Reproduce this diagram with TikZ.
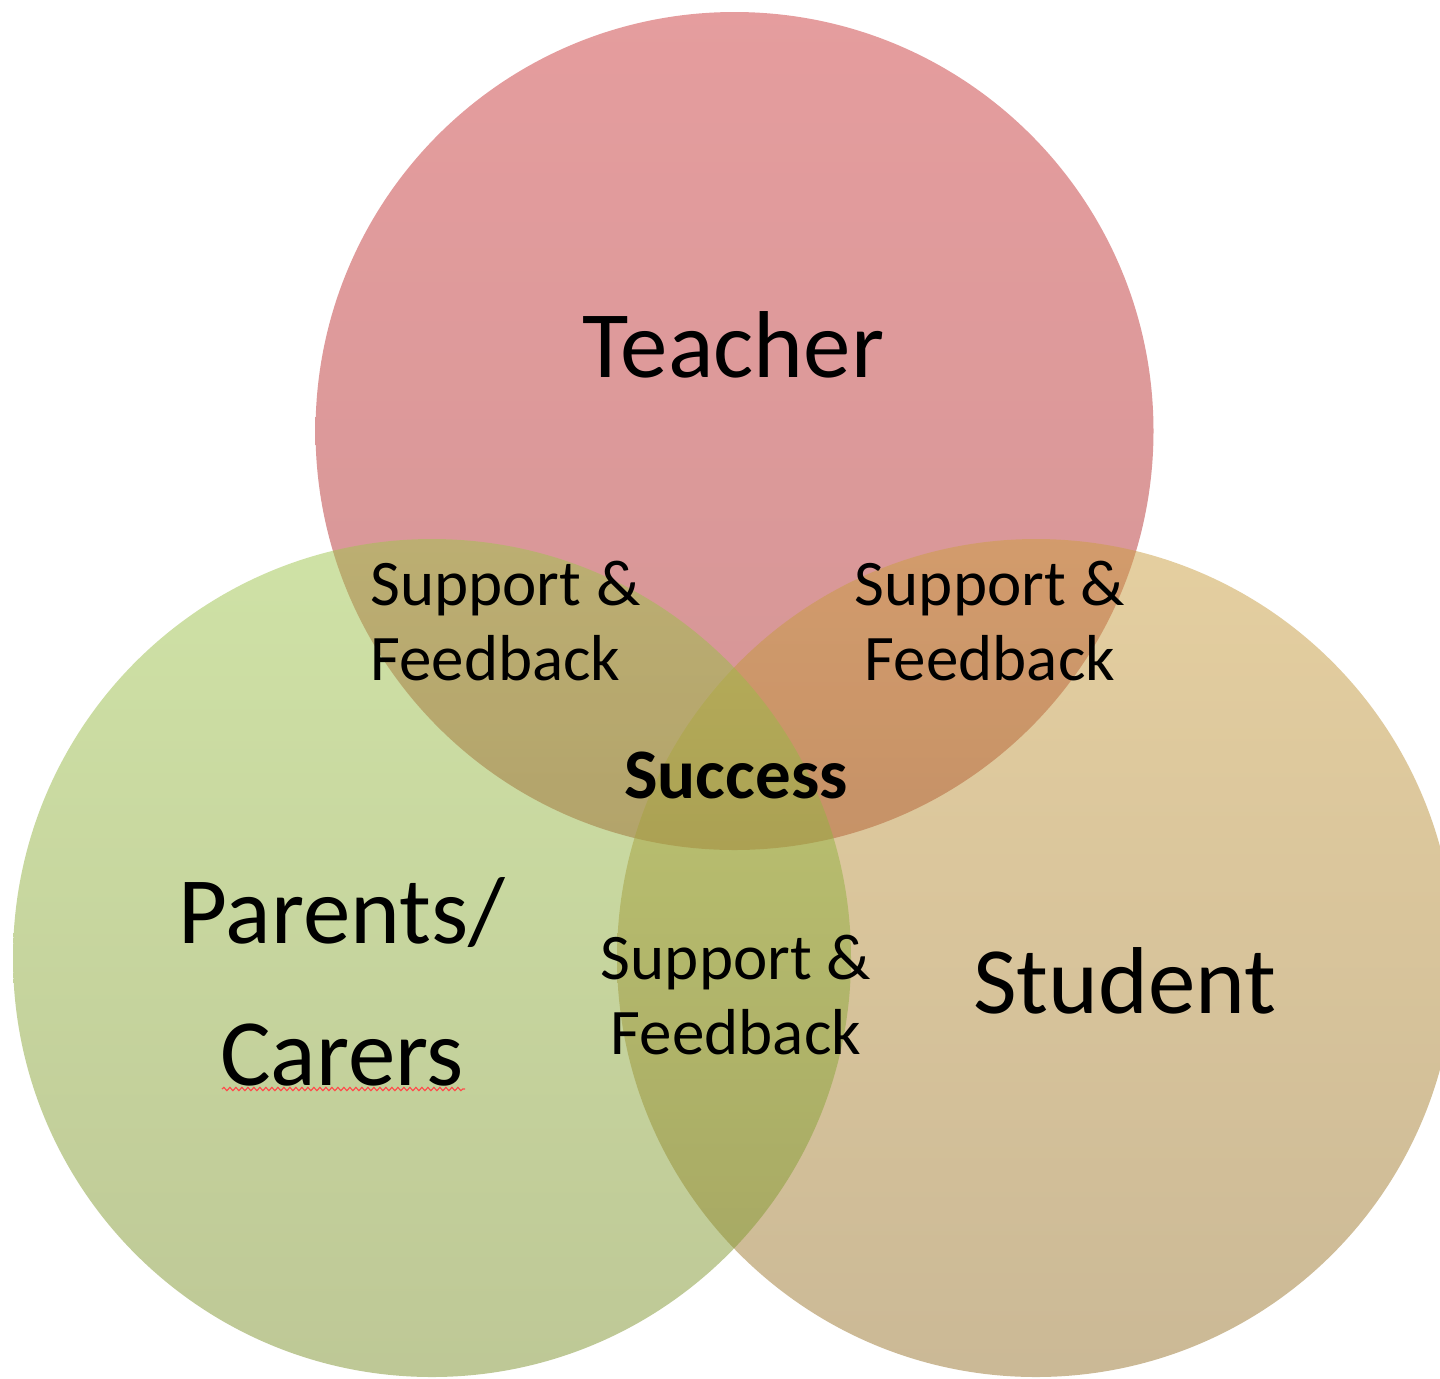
\documentclass[tikz,border=0pt]{standalone}
\usepackage{fontspec}
\setmainfont{Carlito}
\usetikzlibrary{decorations.pathmorphing}

\definecolor{tchTop}{RGB}{203,59,61}
\definecolor{tchBot}{RGB}{169,45,45}
\definecolor{stuTop}{RGB}{203,159,65}
\definecolor{stuBot}{RGB}{151,115,45}
\definecolor{parTop}{RGB}{159,197,77}
\definecolor{parBot}{RGB}{125,145,45}

\begin{document}
\begin{tikzpicture}[x=0.5pt,y=0.5pt,yscale=-1,xscale=1,
  venn/.style={fill opacity=0.5},
  big/.style={font=\fontsize{47.5}{71}\selectfont, align=center, inner sep=0pt},
  small/.style={font=\fontsize{32.5}{37.5}\selectfont, inner sep=0pt}]
\useasboundingbox (0,0) rectangle (1440,1378);

%Shape: Circle [Teacher]
\shade [venn, top color=tchTop, bottom color=tchBot] (734.5,431) circle (419) ;
%Shape: Circle [Student]
\shade [venn, top color=stuTop, bottom color=stuBot] (1036,958) circle (419) ;
%Shape: Circle [Parents]
\shade [venn, top color=parTop, bottom color=parBot] (432,958) circle (419) ;

%Text
\node [big, anchor=base] (teacher) at (733.5,377) {Teacher};
\node [big, anchor=base] (student) at (1125,1013) {Student};
\node [big] (parents) at (342,982) {Parents/\\Carers};

\node [small, align=left, anchor=west] (sfTeaPar) at (370,621) {Support \&\\Feedback};
\node [small, align=center] (sfTeaStu) at (990,621) {Support \&\\Feedback};
\node [small, align=center] (sfParStu) at (736,995) {Support \&\\Feedback};
\node [small, font=\fontsize{35.5}{37.5}\selectfont\bfseries, anchor=base] (success) at (736,798) {Success};

%spell check underline
\draw [red!70!white, line width=0.6pt, decorate, decoration={snake, amplitude=0.8pt, segment length=3pt}] (222,1089) -- (465,1089) ;

\end{tikzpicture}
\end{document}
